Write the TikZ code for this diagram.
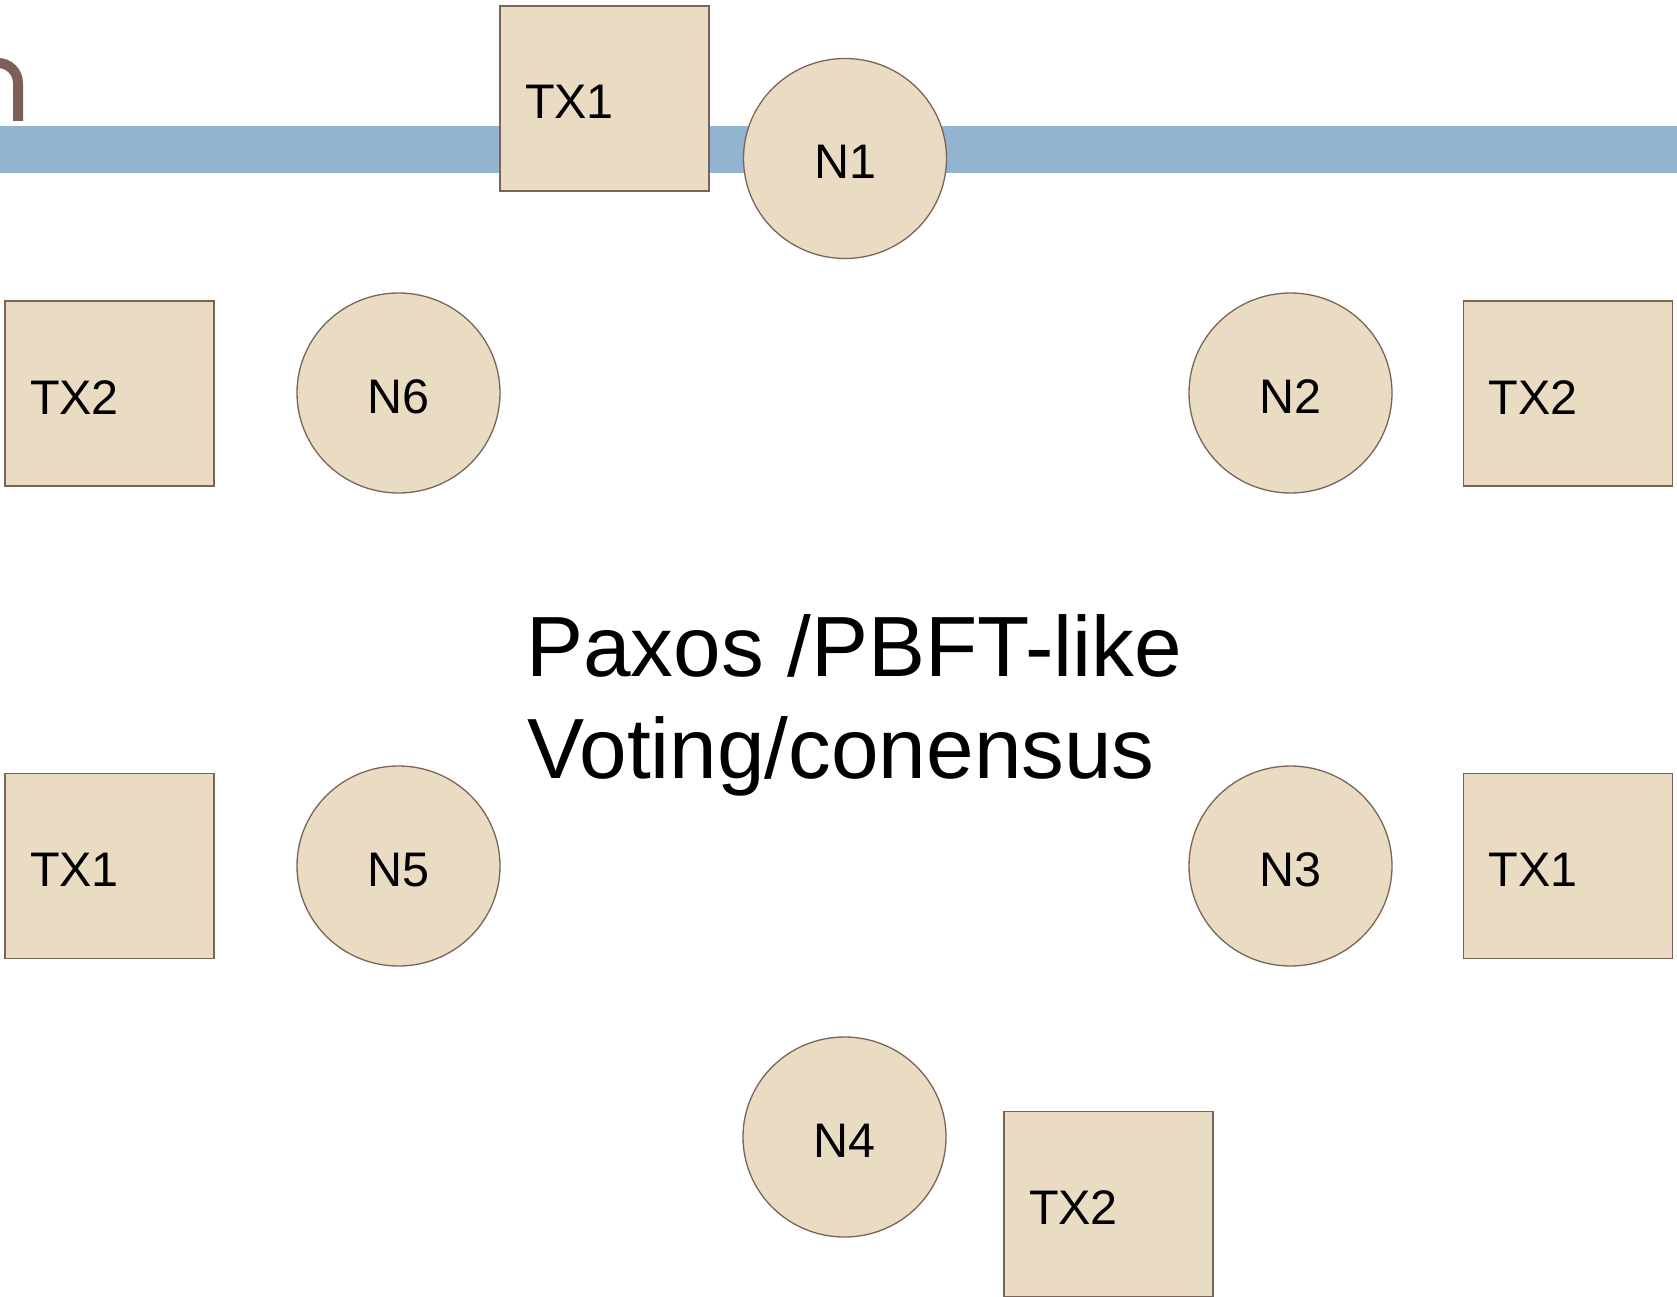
\documentclass[tikz,border=0pt]{standalone}
\usepackage{fontspec}
\setmainfont{Liberation Sans}
\usetikzlibrary{shapes.geometric}

\definecolor{tilefill}{RGB}{234,220,194}
\definecolor{tileedge}{RGB}{122,100,90}
\definecolor{railblue}{RGB}{147,180,208}
\definecolor{glyphbrown}{RGB}{122,96,86}

\tikzset{
  txbox/.style={rectangle, draw=tileedge, fill=tilefill, line width=1.3pt,
    minimum width=209pt, minimum height=185pt, inner xsep=25pt, inner ysep=0pt,
    text width=159pt, align=left, text height=41pt, text depth=0pt,
    font=\fontsize{48.5}{58}\selectfont},
  nodeball/.style={ellipse, draw=tileedge, fill=tilefill, line width=1.3pt,
    minimum width=203pt, minimum height=200pt, inner sep=0pt,
    text height=41pt, text depth=0pt,
    font=\fontsize{48.5}{58}\selectfont},
  bigtext/.style={anchor=base west, inner sep=0pt,
    font=\fontsize{85.5}{102}\selectfont}
}

\begin{document}
\begin{tikzpicture}[x=1pt, y=-1pt]
  \useasboundingbox (0,0) rectangle (1677,1297);
  \fill[white] (0,0) rectangle (1677,1297);

  % cut-off heading glyph and the horizontal rail
  \draw[glyphbrown, line width=10pt]
    (-10,63) -- (-2,63) .. controls (9,63) and (18,72) .. (18,83) -- (18,121);
  \fill[railblue] (0,126) rectangle (1677,173);

  % replica nodes
  \node[nodeball] (n1) at (845,158.5) {N1};
  \node[nodeball] (n2) at (1290.5,393) {N2};
  \node[nodeball] (n3) at (1290.5,866) {N3};
  \node[nodeball] (n4) at (844.5,1137) {N4};
  \node[nodeball] (n5) at (398.5,866) {N5};
  \node[nodeball] (n6) at (398.5,393) {N6};

  % transactions seen by each replica
  \node[txbox] (t1) at (604.5,98.5) {TX1};
  \node[txbox] (t2) at (1568,393.5) {TX2};
  \node[txbox] (t3) at (1568,866) {TX1};
  \node[txbox] (t4) at (1108.5,1204) {TX2};
  \node[txbox] (t5) at (109.5,866) {TX1};
  \node[txbox] (t6) at (109.5,393.5) {TX2};

  % central caption
  \node[bigtext] (cap1) at (526,676) {Paxos /PBFT-like};
  \node[bigtext] (cap2) at (527,778) {Voting/conensus};
\end{tikzpicture}
\end{document}
